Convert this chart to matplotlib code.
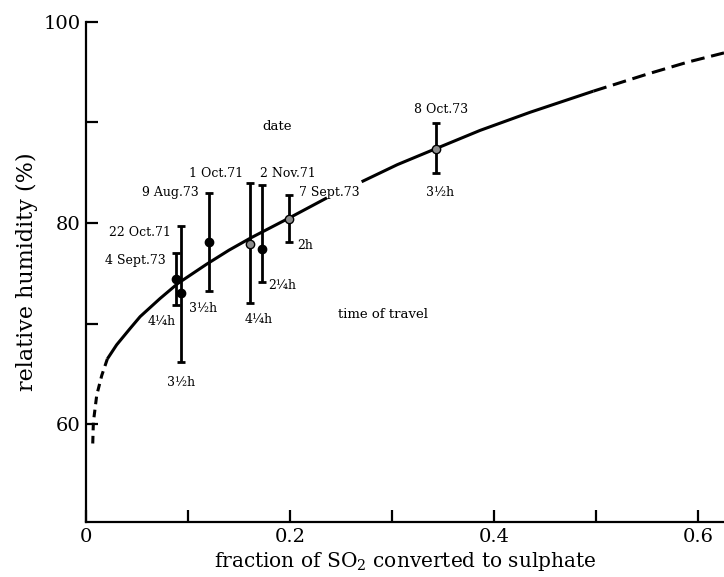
import matplotlib
matplotlib.use('Agg')
import matplotlib.pyplot as plt

plt.rcParams['font.family'] = ['DejaVu Serif']
plt.rcParams['mathtext.fontset'] = 'dejavuserif'

# fitted curve
curve_x = [0.0066, 0.0072, 0.0105, 0.0154, 0.0209, 0.030, 0.043, 0.053, 0.0725, 0.090,
           0.118, 0.140, 0.161, 0.180, 0.199, 0.236, 0.270, 0.305, 0.343, 0.386,
           0.435, 0.497, 0.550, 0.590, 0.625]
curve_y = [58.1, 60.2, 62.9, 64.85, 66.5, 67.9, 69.5, 70.7, 72.5, 74.0,
           75.9, 77.3, 78.5, 79.5, 80.5, 82.5, 84.1, 85.8, 87.4, 89.2,
           91.0, 93.1, 94.8, 96.0, 96.9]

# measurements
dates = ['4 Sept.73', '22 Oct.71', '9 Aug.73', '1 Oct.71', '2 Nov.71', '7 Sept.73', '8 Oct.73']
frac = [0.088, 0.093, 0.120, 0.161, 0.172, 0.199, 0.343]
rh = [74.4, 73.0, 78.1, 77.9, 77.4, 80.4, 87.4]
rh_hi = [77.0, 79.7, 83.0, 84.0, 83.8, 82.8, 89.9]
rh_lo = [71.9, 66.2, 73.2, 72.1, 74.1, 78.1, 85.0]
travel = ['4\u00bch', '3\u00bdh', '3\u00bdh', '4\u00bch', '2\u00bch', '2h', '3\u00bdh']
open_pt = [False, False, False, True, False, True, True]

fig = plt.figure(figsize=(7.24, 5.77), dpi=100)
ax = fig.add_axes([0.1188, 0.0953, 0.8812, 0.8671])

# curve: dashed ends, solid middle with a break under the label
segs = [(0, 5, (0, (2.5, 1.8))), (4, 16, '-'), (16, 22, '-'), (21, 25, (0, (4.5, 2.2)))]
for a, b, ls in segs:
    ax.plot(curve_x[a:b], curve_y[a:b], color='black', lw=2.2, linestyle=ls,
            solid_capstyle='butt', dash_capstyle='butt', solid_joinstyle='round')

for i in range(len(dates)):
    ax.errorbar(frac[i], rh[i], yerr=[[rh[i] - rh_lo[i]], [rh_hi[i] - rh[i]]],
                fmt='o', color='black', ms=6, mec='black',
                mfc='0.55' if open_pt[i] else 'black',
                elinewidth=2.0, capsize=3.2, capthick=2.0, zorder=3)

date_off = [(-7, -5, 'right'), (-7, -4.5, 'right'), (-7, 0, 'right'), (-5, 7, 'right'),
            (-1.5, 8, 'left'), (7, 1.5, 'left'), (3.5, 10, 'center')]
time_off = [(-10, -12, 'center'), (0, -15, 'center'), (-4, -12.5, 'center'), (6, -12, 'center'),
            (14.5, -2.5, 'center'), (6, -2.5, 'left'), (3, -14, 'center')]
for i in range(len(dates)):
    dx, dy, ha = date_off[i]
    ax.annotate(dates[i], (frac[i], rh_hi[i]), xytext=(dx, dy), textcoords='offset points',
                ha=ha, va='center', fontsize=9)
    dx, dy, ha = time_off[i]
    ax.annotate(travel[i], (frac[i], rh_lo[i]), xytext=(dx, dy), textcoords='offset points',
                ha=ha, va='center', fontsize=9)

ax.text(0.187, 89.6, 'date', ha='center', va='center', fontsize=9.5)
ax.text(0.291, 70.9, 'time of travel', ha='center', va='center', fontsize=9.5)

ax.set_xlim(0, 0.625)
ax.set_ylim(50.3, 100)
ax.set_xticks([0, 0.1, 0.2, 0.3, 0.4, 0.5, 0.6])
ax.set_xticklabels(['0', '', '0.2', '', '0.4', '', '0.6'])
ax.set_yticks([60, 70, 80, 90, 100])
ax.set_yticklabels(['60', '', '80', '', '100'])
ax.tick_params(direction='in', length=8.5, width=1.6, labelsize=14, pad=4)

for s in ['top', 'right']:
    ax.spines[s].set_visible(False)
for s in ['left', 'bottom']:
    ax.spines[s].set_linewidth(1.6)

ax.set_xlabel(r'fraction of SO$_\mathrm{2}$ converted to sulphate', fontsize=14.5, labelpad=3)
ax.set_ylabel('relative humidity (%)', fontsize=16, labelpad=4)

fig.savefig('out.png', dpi=100)
